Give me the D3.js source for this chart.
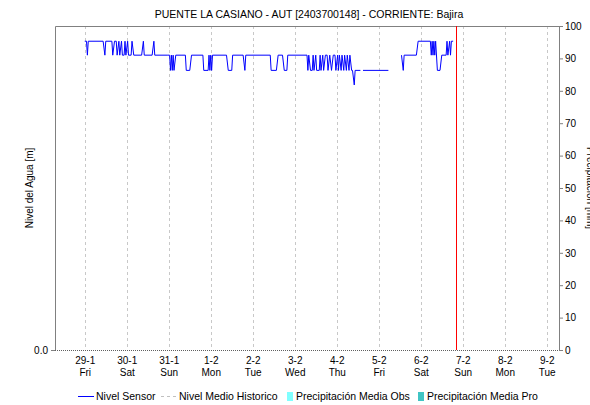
<!DOCTYPE html>
<html>
<head>
<meta charset="utf-8">
<script src="https://cdn.jsdelivr.net/npm/d3@7/dist/d3.min.js"></script>
<style>
  body { margin: 0; background: #fff; }
  svg { font-family: "Liberation Sans", Arial, sans-serif; }
</style>
</head>
<body>
<svg id="chart" width="590" height="405"></svg>
<script>
// chart texts
const chartTitle = "PUENTE LA CASIANO - AUT [2403700148] - CORRIENTE: Bajira";
const leftLabel = "Nivel del Agua [m]";
const rightLabel = "Precipitación [mm]";

// time window + day ticks
const timeStart = "2021-01-28 07:00";
const timeEnd = "2021-02-09 07:00";
const timeNow = "2021-02-06 20:00";
const dayTicks = ["2021-01-29", "2021-01-30", "2021-01-31", "2021-02-01", "2021-02-02", "2021-02-03",
  "2021-02-04", "2021-02-05", "2021-02-06", "2021-02-07", "2021-02-08", "2021-02-09"];

// sensor level (hours after 29-1 00:00, level in m); null = no data
const sensorHour = [0, 1, 1.5, 2, 10.5, 11.5, 12, 15.5, 16, 17, 18, 18.5, 19.5, 20, 21, 21.5, 22.5, 23, 23.5,
  24.5, 25, 26.5, 27, 28, 32.5, 33.5, 34, 38.5, 39.5, 40, 47.5,
  48.5, 49, 49.5, 50, 50.5, 51, 52, 57.5, 58, 60, 61, 67.5, 68, 70.5, 71, 71.5, 72, 72.5, 73,
  81, 82, 84, 84.5, 90.5, 91.5, 92, 106, 106.5, 109.5, 110.5, 113, 114, 115.5, 116, 127,
  127.5, 128, 129, 130, 130.5, 131, 132, 132.5, 134, 134.5, 135, 136, 136.5, 137.5, 138.5, 139, 140,
  141, 142, 143, 143.5, 144.5, 145, 145.5, 146.5, 147, 148, 148.5, 149.5, 150, 151, 151.5, 152.5, 153,
  154, 154.5, 157.5, 158, 159, 173.5, 177, 181, 182, 182.5, 189.5, 190.5, 197.5, 198, 198.5, 199,
  199.5, 200, 200.5, 201.5, 203, 204, 206.5, 207, 207.5, 208.5, 209, 209.5, 210.5];
const sensorLevel = [0.953, 0.953, 0.91, 0.953, 0.953, 0.91, 0.953, 0.953, 0.91, 0.953, 0.953, 0.91, 0.953, 0.91, 0.953, 0.91, 0.91, 0.953, 0.91,
  0.953, 0.91, 0.91, 0.953, 0.91, 0.91, 0.953, 0.91, 0.91, 0.953, 0.91, 0.91,
  0.91, 0.863, 0.91, 0.863, 0.91, 0.863, 0.91, 0.91, 0.863, 0.863, 0.91, 0.91, 0.863, 0.863, 0.91, 0.863, 0.91, 0.863, 0.91,
  0.91, 0.863, 0.863, 0.91, 0.91, 0.863, 0.91, 0.91, 0.863, 0.863, 0.91, 0.91, 0.863, 0.863, 0.91, 0.91,
  0.863, 0.91, 0.863, 0.863, 0.91, 0.863, 0.91, 0.863, 0.863, 0.91, 0.863, 0.91, 0.863, 0.91, 0.91, 0.863, 0.91,
  0.863, 0.91, 0.91, 0.863, 0.91, 0.863, 0.91, 0.863, 0.91, 0.863, 0.91, 0.863, 0.91, 0.863, 0.91, 0.863, 0.863,
  0.818, 0.863, 0.863, null, 0.863, 0.863, null, 0.91, 0.863, 0.91, 0.91, 0.953, 0.953, 0.91, 0.953, 0.91,
  0.953, 0.91, 0.953, 0.863, 0.863, 0.91, 0.91, 0.953, 0.91, 0.953, 0.91, 0.953, 0.953];

// historic mean level (flat at 0 over the window)
const historicTime = [timeStart, timeEnd];
const historicLevel = [0, 0];

// right axis ticks
const rainTicks = [0, 10, 20, 30, 40, 50, 60, 70, 80, 90, 100];

// legend
const legendNames = ["Nivel Sensor", "Nivel Medio Historico", "Precipitación Media Obs", "Precipitación Media Pro"];
const legendKinds = ["line", "dash", "box", "box"];
const legendColors = ["#0000ff", "#c0c0c0", "#80ffff", "#40c4c4"];

const margin = { top: 26, right: 31, bottom: 55, left: 55 };
const width = 590, height = 405;
const innerWidth = width - margin.left - margin.right;
const innerHeight = height - margin.top - margin.bottom;

const parseTime = d3.timeParse("%Y-%m-%d %H:%M");
const parseDay = d3.timeParse("%Y-%m-%d");
const day0 = parseDay(dayTicks[0]);

const xScale = d3.scaleTime().domain([parseTime(timeStart), parseTime(timeEnd)]).range([0, innerWidth]);
const yLevel = d3.scaleLinear().domain([0, 1]).range([innerHeight, 0]);
const yRain = d3.scaleLinear().domain([0, 100]).range([innerHeight, 0]);

const svg = d3.select("#chart");

svg.append("text")
  .attr("x", margin.left + innerWidth / 2 + 2)
  .attr("y", 18)
  .attr("text-anchor", "middle")
  .attr("font-size", "10.5px")
  .attr("fill", "#000")
  .text(chartTitle);

const g = svg.append("g").attr("transform", `translate(${margin.left},${margin.top})`);

// vertical day grid
g.selectAll("line.grid")
  .data(dayTicks.map(parseDay))
  .enter()
  .append("line")
  .attr("class", "grid")
  .attr("x1", (d) => Math.round(xScale(d)) + 0.5)
  .attr("x2", (d) => Math.round(xScale(d)) + 0.5)
  .attr("y1", 0)
  .attr("y2", innerHeight)
  .attr("stroke", "#c8c8c8")
  .attr("stroke-dasharray", "3,3");

// frame: top, left, right
g.append("path")
  .attr("d", `M0.5,${innerHeight}V0.5H${innerWidth + 0.5}V${innerHeight}`)
  .attr("fill", "none")
  .attr("stroke", "#808080");

// historic mean level, dotted along the bottom
const histLine = d3.line()
  .x((d) => xScale(parseTime(d[0])))
  .y((d) => Math.round(yLevel(d[1])) + 0.5);
g.append("path")
  .datum(historicTime.map((t, i) => [t, historicLevel[i]]))
  .attr("d", histLine)
  .attr("fill", "none")
  .attr("stroke", "#606060")
  .attr("stroke-dasharray", "1,1");

// now marker
const nowX = Math.round(xScale(parseTime(timeNow))) + 0.5;
g.append("line")
  .attr("x1", nowX).attr("x2", nowX)
  .attr("y1", 0).attr("y2", innerHeight)
  .attr("stroke", "#ff0000");

// sensor line
const sensorData = sensorHour.map((h, i) => ({
  t: d3.timeMinute.offset(day0, Math.round(h * 60)),
  v: sensorLevel[i],
}));
const valueline = d3.line()
  .defined((d) => d.v !== null)
  .x((d) => xScale(d.t))
  .y((d) => yLevel(d.v));
g.append("path")
  .datum(sensorData)
  .attr("d", valueline)
  .attr("fill", "none")
  .attr("stroke", "#0000ff")
  .attr("stroke-width", 1);

// x axis (two-line labels)
const xAxis = g.append("g")
  .attr("transform", `translate(0,${innerHeight})`)
  .call(d3.axisBottom(xScale).tickValues(dayTicks.map(parseDay)).tickSize(0).tickPadding(7));
xAxis.select(".domain").remove();
xAxis.selectAll(".tick text")
  .attr("font-size", "10px")
  .attr("font-family", "Liberation Sans, Arial, sans-serif")
  .attr("fill", "#000")
  .each(function (d) {
    const t = d3.select(this).text("");
    t.append("tspan").attr("x", 0).text(d3.timeFormat("%-d-%-m")(d));
    t.append("tspan").attr("x", 0).attr("dy", "1.2em").text(d3.timeFormat("%a")(d));
  });

// left axis
const leftAxis = g.append("g")
  .call(d3.axisLeft(yLevel).tickValues([0]).tickFormat(d3.format(".1f")).tickSize(4).tickPadding(3));
leftAxis.select(".domain").remove();
leftAxis.selectAll(".tick line").attr("stroke", "#808080");
leftAxis.selectAll(".tick text").attr("font-size", "10px").attr("fill", "#000")
  .attr("font-family", "Liberation Sans, Arial, sans-serif");

// right axis
const rightAxis = g.append("g")
  .attr("transform", `translate(${innerWidth},0)`)
  .call(d3.axisRight(yRain).tickValues(rainTicks).tickFormat(d3.format("d")).tickSize(4).tickPadding(2));
rightAxis.select(".domain").remove();
rightAxis.selectAll(".tick line").attr("stroke", "#808080");
rightAxis.selectAll(".tick text").attr("font-size", "10px").attr("fill", "#000")
  .attr("font-family", "Liberation Sans, Arial, sans-serif");

// axis titles
svg.append("text")
  .attr("transform", `translate(33,${margin.top + innerHeight / 2}) rotate(-90)`)
  .attr("text-anchor", "middle")
  .attr("font-size", "10px")
  .attr("fill", "#000")
  .text(leftLabel);

svg.append("text")
  .attr("transform", `translate(587,${margin.top + innerHeight / 2}) rotate(90)`)
  .attr("text-anchor", "middle")
  .attr("font-size", "10px")
  .attr("fill", "#000")
  .text(rightLabel);

// legend
const legendX = [78, 161, 287, 418];
const legend = svg.append("g").attr("transform", "translate(0,396)");
legendNames.forEach((name, i) => {
  const item = legend.append("g").attr("transform", `translate(${legendX[i]},0)`);
  if (legendKinds[i] === "box") {
    item.append("rect")
      .attr("x", 0).attr("y", -4)
      .attr("width", 6).attr("height", 9)
      .attr("fill", legendColors[i]);
    item.append("text").attr("x", 9).attr("y", 4).attr("font-size", "10.5px").attr("fill", "#000").text(name);
  } else {
    item.append("line")
      .attr("x1", 0).attr("x2", 16)
      .attr("y1", 0.5).attr("y2", 0.5)
      .attr("stroke", legendColors[i])
      .attr("stroke-dasharray", legendKinds[i] === "dash" ? "3,3" : null);
    item.append("text").attr("x", 18).attr("y", 4).attr("font-size", "10.5px").attr("fill", "#000").text(name);
  }
});
</script>
</body>
</html>
